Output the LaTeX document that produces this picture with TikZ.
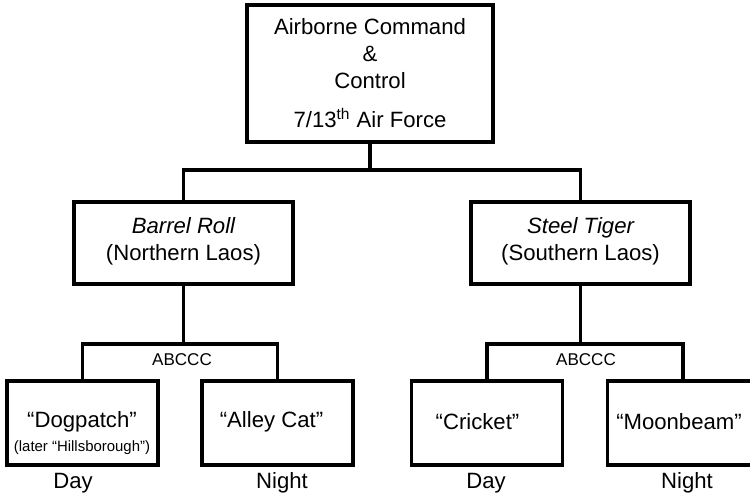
\documentclass[tikz,border=0pt]{standalone}
\usepackage{fontspec}
\setmainfont{Liberation Sans}
\usepackage{tikz}
\tikzset{
  org diagram/.style={x=0.02cm, y=-0.02cm, text=black,
    font=\fontsize{12.6}{15.3}\selectfont, line join=miter},
  org box/.style={draw=black, fill=white, line width=2pt, inner sep=0pt},
  org top box/.style={org box, minimum width=4.92cm, minimum height=2.74cm},
  org area box/.style={org box, minimum width=4.38cm, minimum height=1.64cm},
  org leaf box/.style={org box, minimum width=3.02cm, minimum height=1.68cm},
  org text/.style={align=center, inner sep=0pt},
  org note/.style={font=\fontsize{8.5}{10}\selectfont},
  org tag/.style={font=\fontsize{9.7}{11}\selectfont, inner sep=0pt},
  org line/.style={draw=black, line width=2pt}
}
\begin{document}
\begin{tikzpicture}[org diagram]
\useasboundingbox (0,0) rectangle (750,497);
\node[org top box] (top) at (370,73.5) {};
\node[org text] at (370,73) {Airborne Command\\\&\\Control\\[7pt]7/13\textsuperscript{th} Air Force};
\node[org area box] (br) at (183.5,243) {};
\node[org text] at (183.5,241.5) {\itshape Barrel Roll\\(Northern Laos)};
\node[org area box] (st) at (580.5,243) {};
\node[org text] at (580.5,241.5) {\itshape Steel Tiger\\(Southern Laos)};
\node[org leaf box] (dp) at (82.5,423) {};
\node[org text] at (82,433) {“Dogpatch”\\[-2pt]{\fontsize{8.5}{10}\selectfont(later “Hillsborough”)}};
\node[org leaf box] (ac) at (277.5,423) {};
\node[org text] at (271.5,422) {“Alley Cat”};
\node[org leaf box] (cr) at (487,423) {};
\node[org text] at (477.5,422) {“Cricket”};
\node[org leaf box] (mb) at (683,423) {};
\node[org text] at (679,422) {“Moonbeam”};
\coordinate (topbus) at (370,170);
\coordinate (brbus) at (183.5,344);
\coordinate (stbus) at (580.5,344);
\draw[org line] (top.south) -- (topbus);
\draw[org line] (br.north) |- (topbus) -| (st.north);
\draw[org line] (br.south) -- (brbus);
\draw[org line] (dp.north) |- (brbus) -| (ac.north);
\draw[org line] (st.south) -- (stbus);
\draw[org line] (cr.north) |- (stbus) -| (mb.north);
\node[org tag] (brtag) at (182,360) {ABCCC};
\node[org tag] (sttag) at (586,360) {ABCCC};
\node[org text] (dpday) at (73,483) {Day};
\node[org text] (acnight) at (282,483) {Night};
\node[org text] (crday) at (486,483) {Day};
\node[org text] (mbnight) at (687,483) {Night};
\end{tikzpicture}
\end{document}
